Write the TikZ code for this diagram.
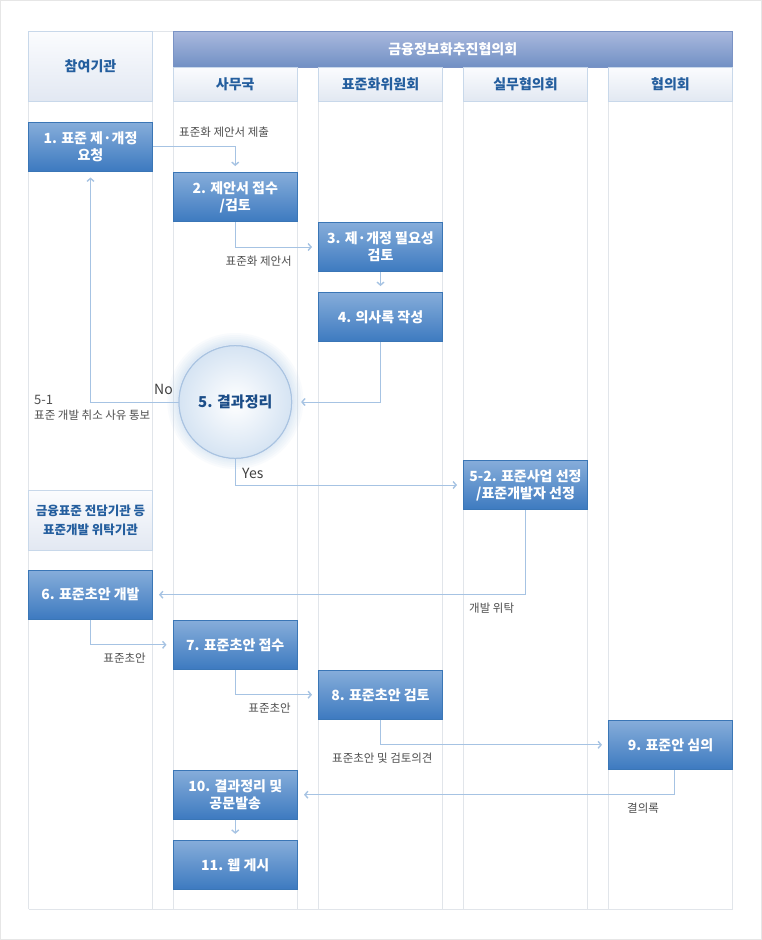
\documentclass[tikz,border=0pt]{standalone}
\usepackage{fontspec}
\setmainfont{Noto Sans CJK KR}
\usetikzlibrary{arrows.meta}
\definecolor{boxtop}{HTML}{86ADDA}
\definecolor{boxbot}{HTML}{3D7AC0}
\definecolor{boxline}{HTML}{3A76B6}
\definecolor{lanecol}{HTML}{E1E5EA}
\definecolor{hdtop}{HTML}{FBFCFE}
\definecolor{hdbot}{HTML}{E2E8F2}
\definecolor{hdline}{HTML}{C8D8EA}
\definecolor{hdtext}{HTML}{245E9E}
\definecolor{bandtop}{HTML}{AAB9DE}
\definecolor{bandbot}{HTML}{7190C4}
\definecolor{bandline}{HTML}{7A93C5}
\definecolor{conncol}{HTML}{A6C3E3}
\definecolor{lblcol}{HTML}{4F4F4F}
\definecolor{framecol}{HTML}{E6E6E6}
\definecolor{circtext}{HTML}{1B4D88}
\definecolor{circline}{HTML}{A9C3E1}
\definecolor{circout}{HTML}{D6E4F3}
\definecolor{glowcol}{HTML}{C6DAF1}
\tikzset{
  stepbox/.style={rectangle, draw=boxline, line width=1pt, top color=boxtop, bottom color=boxbot,
    minimum width=124pt, minimum height=49pt, inner sep=0pt, text=white, align=center,
    font=\bfseries\fontsize{14}{17}\selectfont},
  hdbox/.style={rectangle, draw=hdline, line width=1pt, top color=hdtop, bottom color=hdbot,
    minimum width=124pt, inner sep=0pt, text=hdtext, align=center,
    font=\bfseries\fontsize{14}{17}\selectfont},
  link/.style={draw=conncol, line width=1pt, -{Straight Barb[length=3pt,width=7pt,line width=1.4pt]},
    shorten >=6pt},
  lbl/.style={text=lblcol, font=\fontsize{11.5}{14}\selectfont, inner sep=0pt},
  lanel/.style={draw=lanecol, line width=1pt},
}
\begin{document}
\begin{tikzpicture}[x=1pt,y=-1pt]
\useasboundingbox (0,0) rectangle (762,940);
\fill[white] (0,0) rectangle (762,940);
\draw[framecol, line width=1.2pt] (0.6,0.6) rectangle (761.4,939.4);
% lanes
\foreach \xx in {28.5,152.5,173,297.5,318.5,442.5,463.5,587.5,608.5,732.5}
  \draw[lanel] (\xx,31) -- (\xx,909);
\draw[lanel] (28.5,909) -- (732.5,909);
\draw[lanel] (152.5,31) -- (173,31);
% headers
\node[hdbox, minimum height=70pt] (hd1) at (90.5,66) {참여기관};
\node[rectangle, draw=bandline, line width=1pt, top color=bandtop, bottom color=bandbot,
  minimum width=559.5pt, minimum height=36pt, inner sep=0pt, text=white,
  font=\bfseries\fontsize{14}{17}\selectfont] (band) at (452.75,49) {금융정보화추진협의회};
\node[hdbox, minimum height=34pt, minimum width=124.5pt] (hs2) at (235.25,84) {사무국};
\node[hdbox, minimum height=34pt] (hs3) at (380.5,84) {표준화위원회};
\node[hdbox, minimum height=34pt] (hs4) at (525.5,84) {실무협의회};
\node[hdbox, minimum height=34pt] (hs5) at (670.5,84) {협의회};
\node[hdbox, minimum height=60pt, font=\bfseries\fontsize{12.5}{19}\selectfont] (hd6) at (90.5,520.3)
  {금융표준 전담기관 등\\표준개발 위탁기관};
% step boxes
\node[stepbox] (b1) at (90.5,146.5) {1. 표준 제·개정\\요청};
\node[stepbox, minimum width=124.5pt] (b2) at (235.25,197) {2. 제안서 접수\\/검토};
\node[stepbox] (b3) at (380.5,247) {3. 제·개정 필요성\\검토};
\node[stepbox] (b4) at (380.5,317) {4. 의사록 작성};
\node[stepbox] (b52) at (525.5,485) {5-2. 표준사업 선정\\/표준개발자 선정};
\node[stepbox] (b6) at (90.5,594.7) {6. 표준초안 개발};
\node[stepbox, minimum width=124.5pt] (b7) at (235.25,644.8) {7. 표준초안 접수};
\node[stepbox] (b8) at (380.5,694.7) {8. 표준초안 검토};
\node[stepbox] (b9) at (670.5,744.8) {9. 표준안 심의};
\node[stepbox, minimum width=124.5pt] (b10) at (235.25,794.7) {10. 결과정리 및\\공문발송};
\node[stepbox, minimum width=124.5pt] (b11) at (235.25,864.8) {11. 웹 게시};
% circle with soft glow
\foreach \rr in {68,66,64,62,60.5,59,58}
  \fill[glowcol, opacity=0.10] (235.3,401) circle (\rr pt);
\node[circle, draw=circline, line width=1pt, minimum size=112.6pt, inner sep=0pt,
  fill=white] (c5) at (235.3,402) {};
\shade[inner color=white, outer color=circout] (c5.center) circle (56pt);
\node[text=circtext, font=\bfseries\fontsize{15}{18}\selectfont, inner sep=0pt] (c5t) at (c5.center) {5. 결과정리};
\draw[circline, line width=1pt] (c5.center) circle (56.3pt);
% connectors
\draw[link] (b1.east) -| (b2.north);
\draw[link] (b2.south) |- (b3.west);
\draw[link] (b3.south) -- (b4.north);
\draw[link, shorten >=9pt] (b4.south) |- (c5.east);
\draw[link] (c5.west) -| (b1.south);
\draw[link] (c5.south) |- (b52.west);
\draw[link] (b52.south) |- (b6.east);
\draw[link] (b6.south) |- (b7.west);
\draw[link] (b7.south) |- (b8.west);
\draw[link] (b8.south) |- (b9.west);
\coordinate (b9o) at ([xshift=4pt]b9.south);
\draw[link] (b9o) |- (b10.east);
\draw[link] (b10.south) -- (b11.north);
% labels
\node[lbl, anchor=west] (l1) at (179,132) {표준화 제안서 제출};
\node[lbl, anchor=east] (l2) at (292,261) {표준화 제안서};
\node[text=black!75, font=\fontsize{14}{16}\selectfont, inner sep=0pt] (lno) at (163.5,389) {No};
\node[lbl, anchor=west, font=\fontsize{13}{15}\selectfont] (l51a) at (34,400) {5-1};
\node[lbl, anchor=west] (l51b) at (34,415) {표준 개발 취소 사유 통보};
\node[text=black!75, font=\fontsize{14}{16}\selectfont, inner sep=0pt, anchor=west] (lyes) at (242,473) {Yes};
\node[lbl, anchor=west] (l52) at (469,608) {개발 위탁};
\node[lbl, anchor=east] (l6) at (146,658) {표준초안};
\node[lbl, anchor=east] (l7) at (291,708) {표준초안};
\node[lbl, anchor=west] (l8) at (332,758) {표준초안 및 검토의견};
\node[lbl, anchor=west] (l9) at (627,808) {결의록};
\end{tikzpicture}
\end{document}
